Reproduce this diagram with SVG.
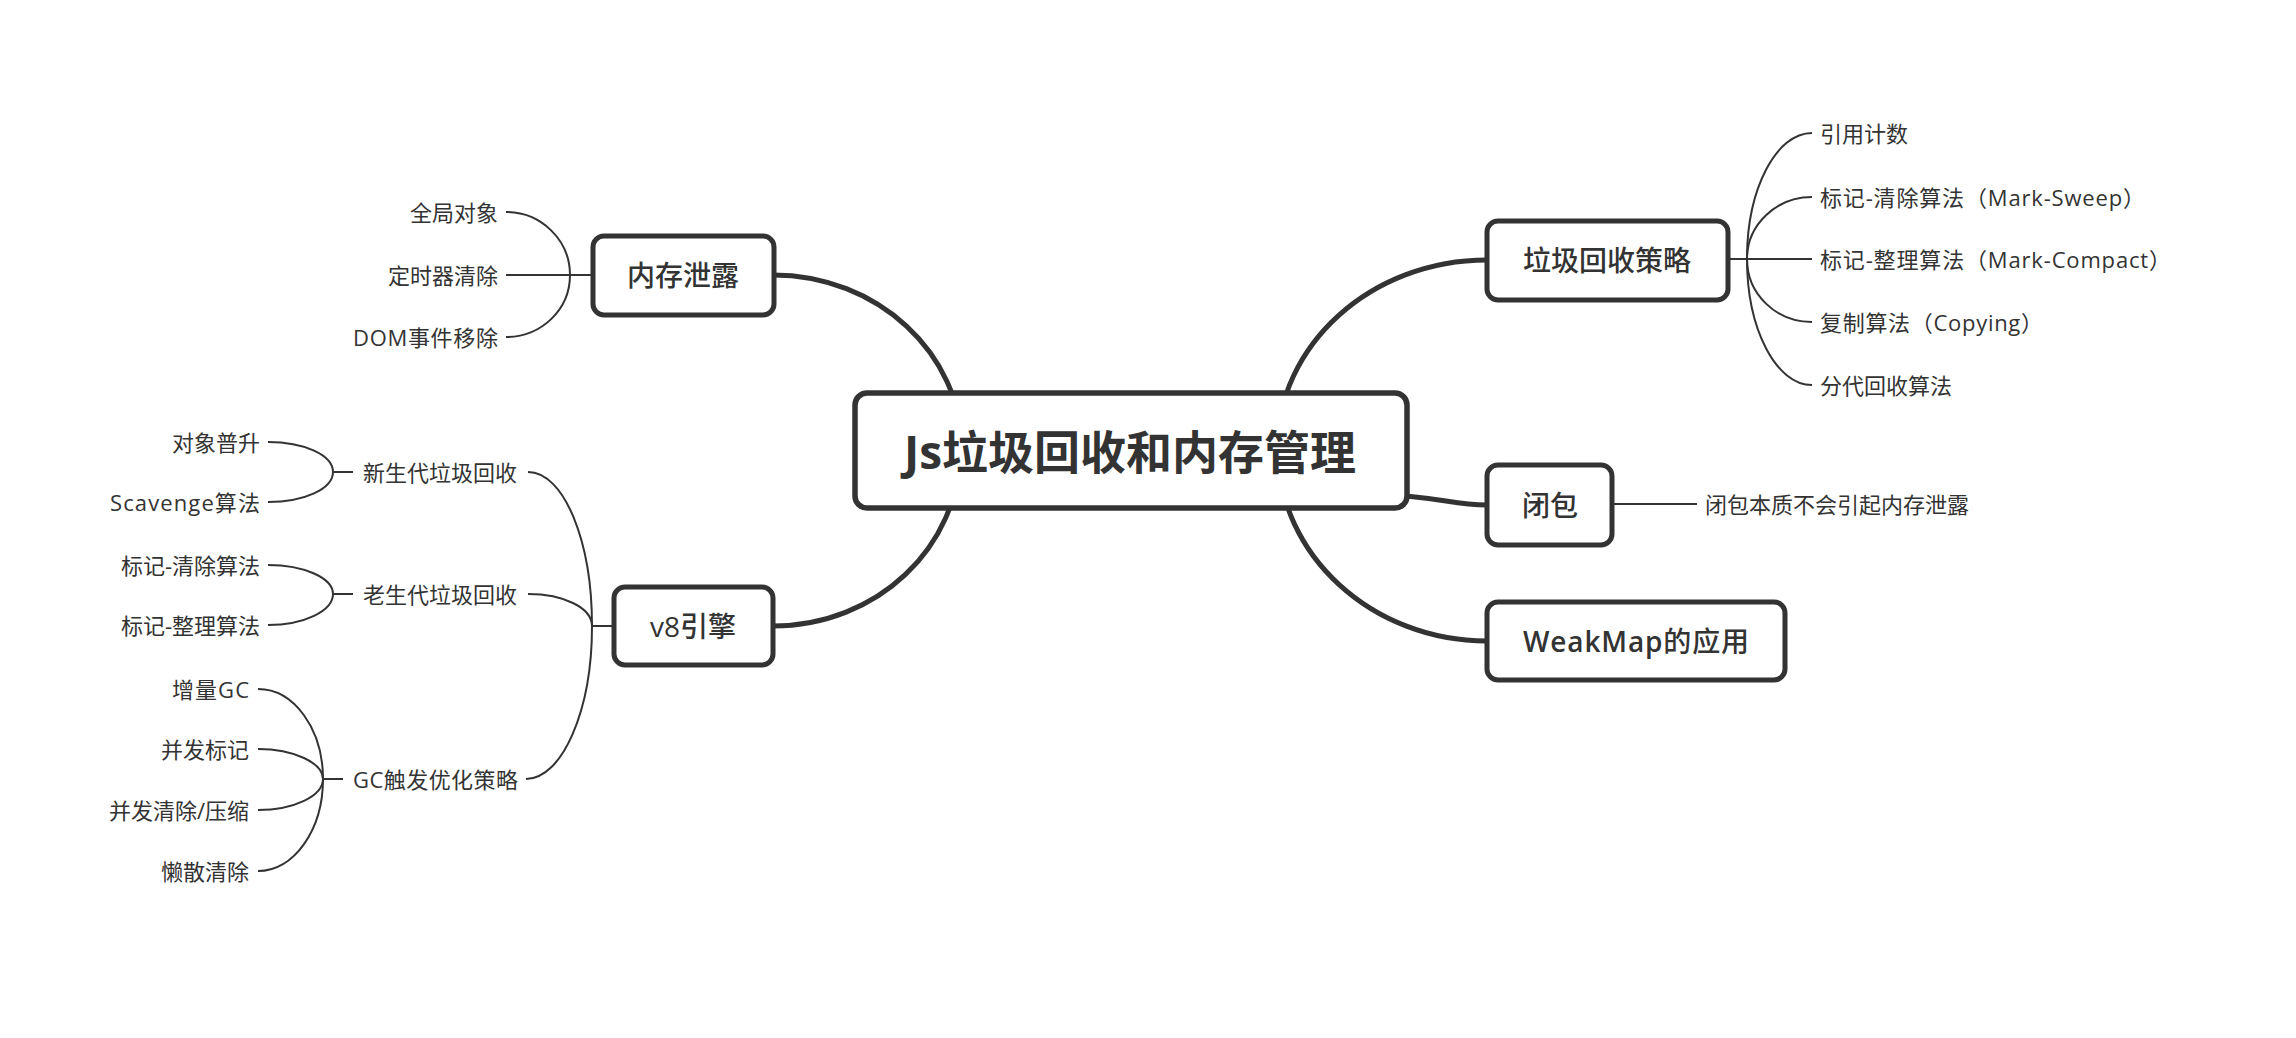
<svg xmlns="http://www.w3.org/2000/svg" width="2296" height="1038" viewBox="0 0 2296 1038">
<style>
.bg{fill:#ffffff}
.thick{fill:none;stroke:#333333;stroke-width:5;stroke-linecap:round}
.thin{fill:none;stroke:#333333;stroke-width:2}
.box{fill:#ffffff;stroke:#333333;stroke-width:5}
.root{fill:#ffffff;stroke:#333333;stroke-width:5.5}
.t{font-family:"Open Sans","Noto Sans CJK SC",sans-serif;fill:#333333;dominant-baseline:central}
.leaf{font-size:22px}
.node{font-size:28px;font-weight:500}
.semi{font-weight:600}
.title{font-size:46px;font-weight:700}
</style>
<rect class="bg" x="0" y="0" width="2296" height="1038"/>
<g id="connectors">
<path class="thick" d="M773,275 C877,275 962,353 962,450"/>
<path class="thick" d="M1487,260 C1371,260 1277,345 1277,450"/>
<path class="thick" d="M773,626 C877,626 960,547 960,450"/>
<path class="thick" d="M1487,641 C1372,641 1278,555 1278,450"/>
<path class="thick" d="M1370,494 C1440,496 1450,505 1487,505"/>
<path class="thin" d="M506,212 C541,212 570,240 570,275"/>
<path class="thin" d="M506,275 H594"/>
<path class="thin" d="M506,337 C541,337 570,310 570,275"/>
<path class="thin" d="M1812,133 C1776,133 1747,189 1747,259"/>
<path class="thin" d="M1812,197 C1776,197 1747,225 1747,259"/>
<path class="thin" d="M1728,259 H1812"/>
<path class="thin" d="M1812,322 C1776,322 1747,294 1747,259"/>
<path class="thin" d="M1812,385 C1776,385 1747,329 1747,259"/>
<path class="thin" d="M1612,504 H1697"/>
<path class="thin" d="M592,626 H614"/>
<path class="thin" d="M528,472 C564,472 592,541 592,626"/>
<path class="thin" d="M528,594 C564,594 592,608 592,626"/>
<path class="thin" d="M526,779 C562,779 592,711 592,626"/>
<path class="thin" d="M333,472 H353"/>
<path class="thin" d="M268,442 C304,442 333,455 333,472"/>
<path class="thin" d="M268,502 C304,502 333,489 333,472"/>
<path class="thin" d="M333,594 H353"/>
<path class="thin" d="M268,565 C304,565 333,578 333,594"/>
<path class="thin" d="M268,625 C304,625 333,611 333,594"/>
<path class="thin" d="M323,779 H343"/>
<path class="thin" d="M258,689 C294,689 323,729 323,779"/>
<path class="thin" d="M258,749 C294,749 323,763 323,779"/>
<path class="thin" d="M258,810 C294,810 323,796 323,779"/>
<path class="thin" d="M258,871 C294,871 323,830 323,779"/>
</g>
<g id="root">
<rect class="root" x="855" y="393" width="552" height="115" rx="12"/>
<text class="t title" x="1130" y="451" text-anchor="middle">Js垃圾回收和内存管理</text>
</g>
<g id="n-leak">
<rect class="box" x="593" y="236" width="181" height="79" rx="11"/>
<text class="t node" x="683" y="275" text-anchor="middle">内存泄露</text>
</g>
<g id="n-leak-1"><text class="t leaf" x="498" y="212" text-anchor="end">全局对象</text></g>
<g id="n-leak-2"><text class="t leaf" x="498" y="275" text-anchor="end">定时器清除</text></g>
<g id="n-leak-3"><text class="t leaf" x="498" y="337" text-anchor="end" textLength="145" lengthAdjust="spacing">DOM事件移除</text></g>
<g id="n-gc">
<rect class="box" x="1487" y="221" width="241" height="79" rx="11"/>
<text class="t node" x="1607" y="260" text-anchor="middle">垃圾回收策略</text>
</g>
<g id="n-gc-1"><text class="t leaf" x="1820" y="133">引用计数</text></g>
<g id="n-gc-2"><text class="t leaf" x="1820" y="197" textLength="325" lengthAdjust="spacing">标记-清除算法（Mark-Sweep）</text></g>
<g id="n-gc-3"><text class="t leaf" x="1820" y="259" textLength="351" lengthAdjust="spacing">标记-整理算法（Mark-Compact）</text></g>
<g id="n-gc-4"><text class="t leaf" x="1820" y="322" textLength="223" lengthAdjust="spacing">复制算法（Copying）</text></g>
<g id="n-gc-5"><text class="t leaf" x="1820" y="385">分代回收算法</text></g>
<g id="n-closure">
<rect class="box" x="1487" y="465" width="125" height="80" rx="11"/>
<text class="t node" x="1550" y="505" text-anchor="middle">闭包</text>
</g>
<g id="n-closure-1"><text class="t leaf" x="1705" y="504">闭包本质不会引起内存泄露</text></g>
<g id="n-weakmap">
<rect class="box" x="1487" y="602" width="298" height="78" rx="11"/>
<text class="t node" x="1636" y="641" text-anchor="middle" textLength="226" lengthAdjust="spacing"><tspan class="semi">WeakMap</tspan>的应用</text>
</g>
<g id="n-v8">
<rect class="box" x="614" y="587" width="159" height="78" rx="11"/>
<text class="t node" x="693" y="626" text-anchor="middle">v8引擎</text>
</g>
<g id="n-young"><text class="t leaf" x="363" y="472">新生代垃圾回收</text></g>
<g id="n-young-1"><text class="t leaf" x="260" y="442" text-anchor="end">对象普升</text></g>
<g id="n-young-2"><text class="t leaf" x="260" y="502" text-anchor="end" textLength="150" lengthAdjust="spacing">Scavenge算法</text></g>
<g id="n-old"><text class="t leaf" x="363" y="594">老生代垃圾回收</text></g>
<g id="n-old-1"><text class="t leaf" x="260" y="565" text-anchor="end">标记-清除算法</text></g>
<g id="n-old-2"><text class="t leaf" x="260" y="625" text-anchor="end">标记-整理算法</text></g>
<g id="n-gcopt"><text class="t leaf" x="353" y="779" textLength="165" lengthAdjust="spacing">GC触发优化策略</text></g>
<g id="n-gcopt-1"><text class="t leaf" x="249" y="689" text-anchor="end" textLength="77" lengthAdjust="spacing">增量GC</text></g>
<g id="n-gcopt-2"><text class="t leaf" x="249" y="749" text-anchor="end">并发标记</text></g>
<g id="n-gcopt-3"><text class="t leaf" x="249" y="810" text-anchor="end">并发清除/压缩</text></g>
<g id="n-gcopt-4"><text class="t leaf" x="249" y="871" text-anchor="end">懒散清除</text></g>
</svg>
